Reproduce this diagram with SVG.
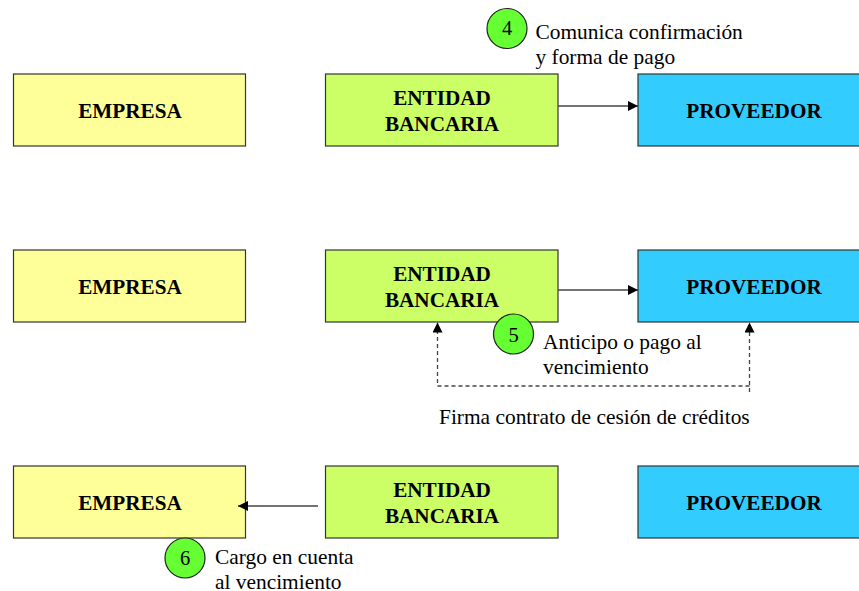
<svg xmlns="http://www.w3.org/2000/svg" width="859" height="591" viewBox="0 0 859 591">
<style>
text{font-family:"Liberation Serif","Times New Roman",serif;fill:#000}
.b{stroke:#333;stroke-width:1.2}
.e{fill:#ffff99}.n{fill:#ccff66}.p{fill:#33ccff}
.t{font-size:21.2px;font-weight:bold;text-anchor:middle}
.l{font-size:21.4px}
.c{fill:#66ff33;stroke:#222;stroke-width:1.2}
.d{font-size:20.5px;text-anchor:middle}
.a{fill:none;stroke:#444;stroke-width:1.3}
.s{stroke-dasharray:4 3}
</style>
<defs>
<marker id="h" markerUnits="userSpaceOnUse" markerWidth="11" markerHeight="11" refX="10" refY="5" orient="auto"><path d="M0 0L10 5L0 10Z" fill="#000"/></marker>
</defs>
<g id="empresa1"><rect class="b e" x="13.500" y="74" width="232" height="72"/><text class="t" x="130" y="118">EMPRESA</text></g>
<g id="entidad1"><rect class="b n" x="325.500" y="74" width="232.500" height="72"/><text class="t" x="442" y="105">ENTIDAD</text><text class="t" x="442" y="131">BANCARIA</text></g>
<g id="proveedor1"><rect class="b p" x="638" y="74" width="224" height="72"/><text class="t" x="754" y="118">PROVEEDOR</text></g>
<g id="empresa2"><rect class="b e" x="13.500" y="250" width="232" height="72"/><text class="t" x="130" y="294">EMPRESA</text></g>
<g id="entidad2"><rect class="b n" x="325.500" y="250" width="232.500" height="72"/><text class="t" x="442" y="281">ENTIDAD</text><text class="t" x="442" y="307">BANCARIA</text></g>
<g id="proveedor2"><rect class="b p" x="638" y="250" width="224" height="72"/><text class="t" x="754" y="294">PROVEEDOR</text></g>
<g id="empresa3"><rect class="b e" x="13.500" y="466" width="232" height="72"/><text class="t" x="130" y="510">EMPRESA</text></g>
<g id="entidad3"><rect class="b n" x="325.500" y="466" width="232.500" height="72"/><text class="t" x="442" y="497">ENTIDAD</text><text class="t" x="442" y="523">BANCARIA</text></g>
<g id="proveedor3"><rect class="b p" x="638" y="466" width="224" height="72"/><text class="t" x="754" y="510">PROVEEDOR</text></g>
<g id="connectors">
<path class="a" d="M558 106H638" marker-end="url(#h)"/>
<path class="a" d="M558 290H638" marker-end="url(#h)"/>
<path class="a" d="M318 506H238" marker-end="url(#h)"/>
<path class="a s" d="M749.500 392V322.500" marker-end="url(#h)"/>
<path class="a s" d="M749.500 386H437.500V322.500" marker-end="url(#h)"/>
</g>
<g id="step4"><circle class="c" cx="507" cy="28.500" r="20"/><text class="d" x="507" y="35">4</text></g>
<g id="step5"><circle class="c" cx="513.500" cy="334" r="20"/><text class="d" x="513.500" y="342">5</text></g>
<g id="step6"><circle class="c" cx="185" cy="558" r="20"/><text class="d" x="185" y="565">6</text></g>
<text class="l" x="535.500" y="39">Comunica confirmación</text>
<text class="l" x="535.500" y="64">y forma de pago</text>
<text class="l" x="543" y="349">Anticipo o pago al</text>
<text class="l" x="543" y="374">vencimiento</text>
<text class="l" x="439" y="424">Firma contrato de cesión de créditos</text>
<text class="l" x="215" y="564">Cargo en cuenta</text>
<text class="l" x="215" y="589">al vencimiento</text>
</svg>
